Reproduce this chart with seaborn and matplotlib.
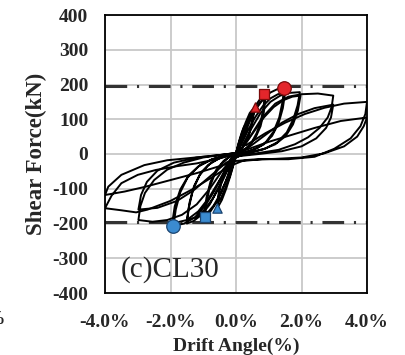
import matplotlib
matplotlib.use("Agg")
import matplotlib.pyplot as plt
import seaborn as sns
import pandas as pd

# ---------------- data ----------------
d025 = [0, 0.06, 0.12, 0.19, 0.25, 0.22, 0.15, 0.07, 0, -0.06, -0.12, -0.19, -0.25, -0.22, -0.15, -0.07, 0,
        0.06, 0.13, 0.19, 0.25, 0.22, 0.14, 0.06, 0, -0.07, -0.13, -0.19, -0.25, -0.21, -0.14, -0.06, 0]
f025 = [0, 25, 45, 65, 80, 55, 30, 10, -5, -25, -45, -65, -80, -55, -30, -10, 3,
        22, 43, 60, 75, 50, 25, 8, -5, -25, -43, -60, -75, -50, -25, -8, 2]

d05 = [0, 0.08, 0.18, 0.3, 0.42, 0.58, 0.5, 0.42, 0.3, 0.15, 0, -0.08, -0.18, -0.3, -0.43, -0.57, -0.52, -0.43, -0.3, -0.15, 0,
       0.1, 0.2, 0.32, 0.44, 0.55, 0.5, 0.4, 0.27, 0.12, 0, -0.1, -0.2, -0.33, -0.45, -0.57, -0.51, -0.41, -0.27, -0.12, 0]
f05 = [2, 30, 62, 92, 118, 136, 100, 65, 35, 12, -5, -30, -65, -100, -132, -156, -115, -75, -40, -14, 3,
       32, 60, 88, 112, 125, 90, 55, 28, 8, -6, -33, -65, -98, -125, -142, -100, -62, -30, -9, 3]

d10 = [0, 0.05, 0.15, 0.3, 0.45, 0.6, 0.75, 0.88, 0.84, 0.76, 0.63, 0.47, 0.28, 0.1, 0, -0.1, -0.25, -0.42, -0.6, -0.78, -0.95, -0.9, -0.8, -0.65, -0.45, -0.25, -0.08, 0,
       0.12, 0.28, 0.45, 0.6, 0.75, 0.9, 0.85, 0.75, 0.6, 0.4, 0.2, 0, -0.15, -0.32, -0.5, -0.68, -0.83, -0.97, -0.9, -0.78, -0.6, -0.38, -0.18, 0]
f10 = [3, 10, 40, 80, 112, 140, 160, 172, 135, 95, 60, 32, 14, 3, -8, -28, -65, -105, -140, -165, -181, -140, -95, -58, -30, -12, -2, 4,
       30, 70, 105, 130, 150, 162, 120, 80, 48, 22, 8, -6, -38, -80, -118, -148, -165, -172, -125, -80, -45, -20, -6, 3]

d15 = [0, 0.1, 0.25, 0.45, 0.65, 0.85, 1.05, 1.25, 1.47, 1.42, 1.32, 1.15, 0.92, 0.65, 0.35, 0.1, -0.1, -0.3, -0.55, -0.8, -1.05, -1.3, -1.5, -1.44, -1.32, -1.12, -0.85, -0.55, -0.25, 0,
       0.15, 0.35, 0.58, 0.82, 1.05, 1.28, 1.5, 1.43, 1.3, 1.1, 0.84, 0.52, 0.2, 0, -0.2, -0.45, -0.72, -0.98, -1.25, -1.5, -1.42, -1.28, -1.06, -0.76, -0.45, -0.15, 0]
f15 = [3, 18, 55, 100, 135, 160, 177, 186, 189, 150, 105, 65, 35, 17, 7, 0, -15, -50, -100, -145, -175, -193, -200, -155, -105, -62, -32, -14, -4, 3,
       25, 65, 105, 138, 160, 172, 176, 132, 88, 52, 27, 12, 2, -6, -35, -85, -130, -162, -183, -190, -140, -92, -52, -25, -10, -2, 3]

d20 = [0.2, 0.45, 0.75, 1.05, 1.35, 1.65, 1.95, 1.88, 1.75, 1.55, 1.25, 0.9, 0.5, 0.15, -0.1, -0.35, -0.65, -0.95, -1.25, -1.58, -1.91, -1.84, -1.7, -1.48, -1.15, -0.75, -0.35, 0,
       0.25, 0.55, 0.85, 1.15, 1.45, 1.72, 1.97, 1.89, 1.74, 1.52, 1.2, 0.82, 0.42, 0.05, -0.2, -0.5, -0.82, -1.15, -1.5, -1.95, -1.87, -1.7, -1.45, -1.1, -0.7, -0.3, 0]
f20 = [25, 70, 118, 150, 168, 176, 178, 140, 100, 62, 33, 16, 6, 0, -12, -50, -105, -150, -182, -200, -207, -160, -110, -68, -36, -16, -5, 2,
       25, 65, 105, 135, 155, 165, 168, 125, 85, 52, 28, 13, 4, -2, -25, -75, -125, -165, -190, -200, -150, -102, -62, -32, -14, -4, 2]

d30 = [0.1, 0.4, 0.8, 1.2, 1.6, 2.0, 2.5, 2.97, 2.92, 2.8, 2.55, 2.2, 1.8, 1.3, 0.7, 0.2, -0.1, -0.4, -0.8, -1.2, -1.65, -2.1, -2.55, -2.98, -2.92, -2.78, -2.5, -2.1, -1.6, -1.0, -0.4, 0,
       0.4, 0.9, 1.4, 1.9, 2.4, 2.97, 2.9, 2.75, 2.45, 2.0, 1.4, 0.7, 0.1, -0.3, -0.8, -1.3, -1.8, -2.4, -2.98, -2.9, -2.72, -2.4, -1.9, -1.2, -0.5, 0]
f30 = [5, 45, 105, 145, 165, 172, 174, 168, 135, 105, 75, 48, 28, 12, 3, -3, -12, -45, -100, -145, -175, -190, -195, -190, -150, -112, -75, -45, -25, -10, -2, 3,
       20, 55, 90, 115, 132, 142, 105, 75, 45, 22, 8, 0, -6, -25, -65, -105, -135, -155, -160, -118, -80, -48, -25, -10, -3, 3]

d40 = [0.3, 0.9, 1.5, 2.1, 2.7, 3.3, 4.0, 3.95, 3.8, 3.5, 3.0, 2.4, 1.6, 0.8, 0.2, -0.2, -0.7, -1.3, -2.0, -2.7, -3.05, -3.5, -4.0, -3.8, -3.5, -3.0, -2.45, -1.8, -1.2, -0.6, 0,
       0.4, 1.0, 1.7, 2.4, 3.2, 4.0, 3.9, 3.7, 3.3, 2.7, 2.0, 1.2, 0.5, 0, -0.5, -1.2, -2.0, -2.8, -3.4, -4.0, -3.9, -3.5, -2.8, -2.1, -1.45, -0.7, 0]
f40 = [25, 60, 90, 115, 133, 145, 150, 115, 80, 45, 15, -8, -15, -15, -20, -35, -65, -100, -135, -160, -168, -162, -156, -120, -84, -60, -46, -35, -27, -15, 0,
       15, 35, 55, 75, 95, 105, 80, 50, 22, 2, -10, -14, -16, -20, -35, -55, -75, -95, -108, -118, -94, -60, -32, -18, -12, -5, 2]

pos_drift = [0.58, 0.86, 1.47]
pos_force = [136, 172, 189]
neg_drift = [-0.57, -0.95, -1.91]
neg_force = [-156, -181, -207]
point_kind = ["triangle", "square", "circle"]

limit_force = [195, -195]

x_ticks = [-4, -2, 0, 2, 4]
x_labels = ["-4.0%", "-2.0%", "0.0%", "2.0%", "4.0%"]
y_ticks = [-400, -300, -200, -100, 0, 100, 200, 300, 400]
y_labels = ["-400", "-300", "-200", "-100", "0", "100", "200", "300", "400"]

# ---------------- build table ----------------
levels = [("0.25", d025, f025), ("0.5", d05, f05), ("1.0", d10, f10), ("1.5", d15, f15),
          ("2.0", d20, f20), ("3.0", d30, f30), ("4.0", d40, f40)]
rows = []
for name, dd, ff in levels:
    for i, (a, b) in enumerate(zip(dd, ff)):
        rows.append({"level": name, "order": i, "drift": a, "force": b})
df = pd.DataFrame(rows)

mk = pd.DataFrame({"drift": pos_drift + neg_drift, "force": pos_force + neg_force,
                   "kind": point_kind + point_kind,
                   "side": ["pos"] * 3 + ["neg"] * 3})

# ---------------- figure ----------------
sns.set_style("white")
plt.rcParams["font.family"] = ["Liberation Serif", "DejaVu Serif"]

fig = plt.figure(figsize=(4.05, 3.55), dpi=100)
ax = fig.add_axes([105 / 405, 1 - 293 / 355, 262 / 405, 278 / 355])

ax.set_xlim(-4, 4)
ax.set_ylim(-400, 400)
ax.set_xticks(x_ticks)
ax.set_yticks(y_ticks)
ax.grid(True, color="#c8c8c8", linewidth=1.3, zorder=0)
ax.set_axisbelow(True)

for yv in limit_force:
    ax.axhline(yv, color="#333333", linewidth=2.2, linestyle=(0, (7.1, 3.2, 0.7, 3.2)), zorder=2)

sns.lineplot(data=df, x="drift", y="force", units="level", estimator=None, sort=False,
             color="black", linewidth=1.4, ax=ax, zorder=3, legend=False)

marker_map = {"triangle": "^", "square": "s", "circle": "o"}
size_map = {"triangle": 45, "square": 60, "circle": 95}
for side, fc, ec in [("pos", "#e3262b", "#7a0a0a"), ("neg", "#3b8bd0", "#1b4470")]:
    sub = mk[mk["side"] == side]
    for kind in point_kind:
        s2 = sub[sub["kind"] == kind]
        sns.scatterplot(data=s2, x="drift", y="force", marker=marker_map[kind], s=size_map[kind],
                        color=fc, edgecolor=ec, linewidth=0.9, ax=ax, zorder=5, legend=False)

ax.set_xticklabels(x_labels, fontweight="bold", fontsize=14)
ax.set_yticklabels(y_labels, fontweight="bold", fontsize=14)
ax.tick_params(axis="both", length=0)
ax.tick_params(axis="x", pad=15)
ax.tick_params(axis="y", pad=12)

for sp in ax.spines.values():
    sp.set_visible(True)
    sp.set_color("black")
    sp.set_linewidth(1.3)

ax.set_xlabel("Drift Angle(%)", fontweight="bold", fontsize=14, labelpad=5)
ax.set_ylabel("Shear Force(kN)", fontweight="bold", fontsize=16.5, labelpad=4)

ax.text(0.06, 0.035, "(c)CL30", transform=ax.transAxes, fontsize=21, ha="left", va="bottom", zorder=6)

# clipped fragment of the neighbouring panel's tick label
fig.text(5 / 405, 1 - 319 / 355, "%", fontweight="bold", fontsize=14, ha="right", va="center")

fig.savefig("out.png", dpi=100)
